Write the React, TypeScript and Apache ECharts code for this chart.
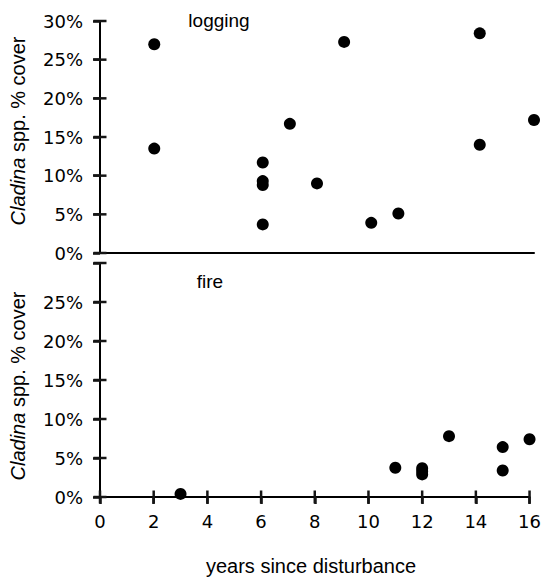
import React, { useEffect, useRef } from "react";
import * as echarts from "echarts";

const xTicks = [0, 2, 4, 6, 8, 10, 12, 14, 16];
const yTicks = [0, 5, 10, 15, 20, 25, 30];

const loggingYears = [2, 2, 6, 6, 6, 6, 7, 8, 9, 10, 11, 14, 14, 16];
const loggingCover = [27.0, 13.5, 11.7, 9.3, 8.8, 3.7, 16.7, 9.0, 27.3, 3.9, 5.1, 28.4, 14.0, 17.2];

const fireYears = [3, 11, 12, 12, 12, 13, 15, 15, 16];
const fireCover = [0.4, 3.75, 3.7, 3.3, 2.9, 7.8, 6.4, 3.4, 7.4];

const panelLabels = ["logging", "fire"];
const yTitleItalic = "Cladina";
const yTitleRest = " spp. % cover";
const xTitle = "years since disturbance";

const TICK_FONT = "DejaVu Sans";
const TEXT_FONT = "Liberation Sans";
const INK = "#151515";

export default function App() {
  const ref = useRef<HTMLDivElement>(null);
  useEffect(() => {
    if (!ref.current) return;
    const chart = echarts.init(ref.current, undefined, { renderer: "svg" });
    const line = { show: true, lineStyle: { color: "#000", width: 2 } };
    const yMin = yTicks[0];
    const yMax = yTicks[yTicks.length - 1];
    const yStep = yTicks[1] - yTicks[0];
    const xMin = xTicks[0];
    const xMax = xTicks[xTicks.length - 1];
    const xStep = xTicks[1] - xTicks[0];

    const yAxisBase = (grid: number, hideTop: boolean) => ({
      type: "value",
      gridIndex: grid,
      position: "left",
      min: yMin,
      max: yMax,
      interval: yStep,
      axisLine: line,
      axisTick: { show: true, length: 7, lineStyle: { color: INK, width: 2.5 } },
      axisLabel: {
        show: true,
        margin: 17,
        color: "#000",
        fontSize: 18,
        fontFamily: TICK_FONT,
        formatter: (v: number) => (hideTop && v === yMax ? "" : v + "%"),
      },
      splitLine: { show: false },
    });

    const xAxisBase = (grid: number, labels: boolean) => ({
      type: "value",
      gridIndex: grid,
      position: "bottom",
      min: xMin,
      max: xMax,
      interval: xStep,
      axisLine: line,
      axisTick: { show: labels, length: 7, lineStyle: { color: INK, width: 2.5 } },
      axisLabel: {
        show: labels,
        margin: 15,
        color: "#000",
        fontSize: 18,
        fontFamily: TICK_FONT,
      },
      splitLine: { show: false },
    });

    const tickSeries = (ax: number, vertical: boolean) => ({
      type: "scatter",
      xAxisIndex: ax,
      yAxisIndex: ax,
      clip: false,
      symbol: "rect",
      symbolSize: vertical ? [2.5, 13] : [13, 2.5],
      itemStyle: { color: INK, opacity: 1 },
      data: vertical ? xTicks.map((v) => [v, yMin]) : yTicks.map((v) => [xMin, v]),
    });

    chart.setOption({
      animation: false,
      backgroundColor: "#fff",
      grid: [
        { left: 100, top: 21, width: 434, height: 232 },
        { left: 100, top: 263, width: 434, height: 234 },
      ],
      xAxis: [xAxisBase(0, false), xAxisBase(1, true)],
      yAxis: [yAxisBase(0, false), yAxisBase(1, true)],
      series: [
        tickSeries(0, false),
        tickSeries(1, false),
        tickSeries(1, true),
        {
          type: "scatter",
          xAxisIndex: 0,
          yAxisIndex: 0,
          symbolSize: 12,
          itemStyle: { color: "#000", opacity: 1 },
          data: loggingYears.map((x, i) => [x, loggingCover[i]]),
        },
        {
          type: "scatter",
          xAxisIndex: 1,
          yAxisIndex: 1,
          symbolSize: 12,
          itemStyle: { color: "#000", opacity: 1 },
          data: fireYears.map((x, i) => [x, fireCover[i]]),
        },
      ],
      graphic: [
        {
          type: "text",
          x: 219,
          y: 20,
          style: {
            text: panelLabels[0],
            fontSize: 19,
            fontFamily: TEXT_FONT,
            fill: "#000",
            textAlign: "center",
            textVerticalAlign: "middle",
          },
        },
        {
          type: "text",
          x: 210,
          y: 281,
          style: {
            text: panelLabels[1],
            fontSize: 19,
            fontFamily: TEXT_FONT,
            fill: "#000",
            textAlign: "center",
            textVerticalAlign: "middle",
          },
        },
        {
          type: "text",
          x: 311,
          y: 566,
          style: {
            text: xTitle,
            fontSize: 20,
            fontFamily: TEXT_FONT,
            fill: "#000",
            textAlign: "center",
            textVerticalAlign: "middle",
          },
        },
        ...[131, 386].map((cy) => ({
          type: "text",
          x: 18,
          y: cy,
          rotation: Math.PI / 2,
          style: {
            text: "{i|" + yTitleItalic + "}" + yTitleRest,
            fontSize: 20,
            fontFamily: TEXT_FONT,
            fill: "#000",
            textAlign: "center",
            textVerticalAlign: "middle",
            rich: {
              i: { fontStyle: "italic", fontSize: 20, fontFamily: TEXT_FONT, fill: "#000" },
            },
          },
        })),
      ],
    });
    return () => chart.dispose();
  }, []);
  return (
    <div
      ref={ref}
      style={{ position: "fixed", left: 0, top: 0, width: 544, height: 578 }}
    />
  );
}
